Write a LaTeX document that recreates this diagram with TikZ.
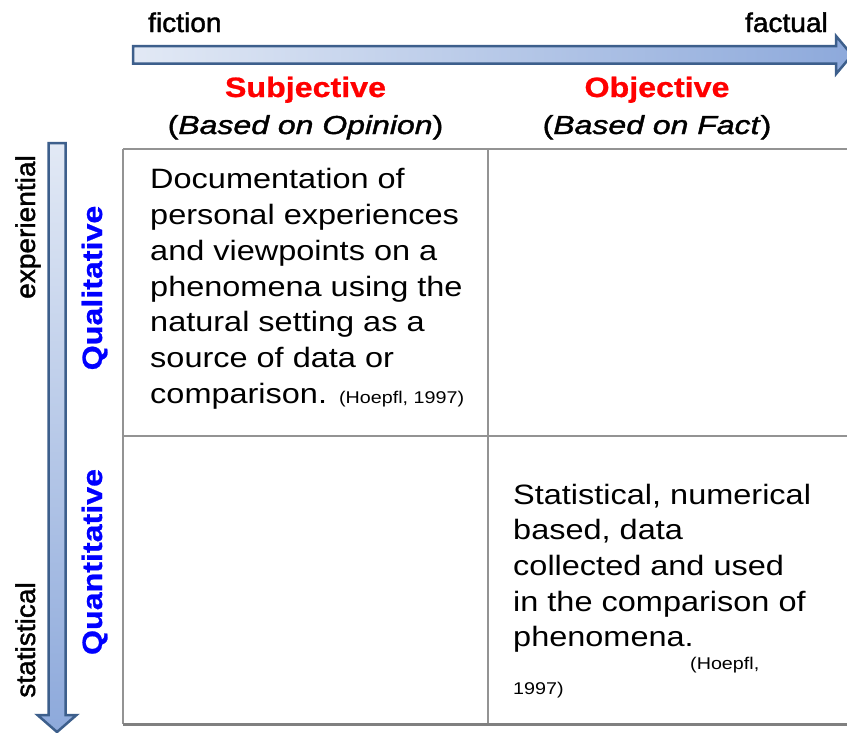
\documentclass[tikz,border=0pt]{standalone}
\usepackage{fontspec}
\setmainfont{Liberation Sans}
\newfontfamily\bodyfont[FakeStretch=1.16]{Liberation Sans}
\newfontfamily\axisfont[FakeStretch=1.04,FakeBold=1.5]{Liberation Sans}
\newfontfamily\headfont[FakeStretch=1.15,FakeBold=0.8]{Liberation Sans}
\newfontfamily\basisfont[FakeStretch=1.23,FakeBold=1.5]{Liberation Sans}

\definecolor{arrowline}{HTML}{3D5F8C}
\definecolor{arrowlight}{HTML}{E2E9F5}
\definecolor{arrowdark}{HTML}{8DA9DB}
\definecolor{gridline}{HTML}{939393}
\definecolor{gridbottom}{HTML}{808080}
\definecolor{headred}{HTML}{FF0000}
\definecolor{headblue}{HTML}{0000FF}

\begin{document}
\begin{tikzpicture}[x=1pt,y=-1pt,
  axislabel/.style={inner sep=0, font=\axisfont\fontsize{27}{30}\selectfont},
  colhead/.style={inner sep=0, text=headred, font=\headfont\bfseries\fontsize{28}{32}\selectfont},
  colbasis/.style={inner sep=0, font=\basisfont\fontsize{26}{30}\selectfont},
  rowhead/.style={inner sep=0, rotate=90, anchor=base, text=headblue, font=\headfont\bfseries\fontsize{28}{32}\selectfont},
  sidelabel/.style={axislabel, rotate=90, anchor=base},
  bodytext/.style={inner sep=0, align=left, anchor=north west, font=\bodyfont\fontsize{28}{35.7}\selectfont},
  cite/.style={inner sep=0, font=\bodyfont\fontsize{17}{24}\selectfont},
  gridrule/.style={draw=gridline, line width=2pt},
  scalearrow/.style={draw=arrowline, line width=2.5pt, line join=miter}
]
% page
\fill[white] (0,0) rectangle (847,732);
\useasboundingbox (0,0) rectangle (847,732);

% horizontal scale: fiction -> factual
\path[scalearrow, left color=arrowlight, right color=arrowdark]
  (133,46) -- (836,46) -- (836,36) -- (852,55) -- (836,74) -- (836,63.5) -- (133,63.5) -- cycle;

% vertical scale: experiential -> statistical
\path[scalearrow, top color=arrowlight, bottom color=arrowdark]
  (48.5,143) -- (65.5,143) -- (65.5,715) -- (76.5,715) -- (57,732) -- (37.5,715) -- (48.5,715) -- cycle;

% grid corners
\coordinate (tl) at (123,149);
\coordinate (tm) at (488,149);
\coordinate (tr) at (848,149);
\coordinate (ml) at (123,436);
\coordinate (mr) at (848,436);
\coordinate (bl) at (123,724);
\coordinate (bm) at (488,724);
\coordinate (br) at (848,724);

\draw[gridrule] (tl) -- (tr);
\draw[gridrule] (tl) -- (bl);
\draw[gridrule] (tm) -- (bm);
\draw[gridrule] (ml) -- (mr);
\draw[draw=gridbottom, line width=3pt] (bl) -- (br);

% scale labels
\node[axislabel, anchor=base west] (fiction) at (148,32) {fiction};
\node[axislabel, anchor=base east] (factual) at (828,32) {factual};
\node[sidelabel] (experiential) at (35,227) {experiential};
\node[sidelabel] (statistical) at (35,640) {statistical};

% column headings
\node[colhead, anchor=base] (subj) at (305.5,97) {Subjective};
\node[colbasis, anchor=base] (subjbasis) at (305.5,134) {(\textit{Based on Opinion})};
\node[colhead, anchor=base] (obj) at (657,97) {Objective};
\node[colbasis, anchor=base] (objbasis) at (657,134) {(\textit{Based on Fact})};

% row headings
\node[rowhead] (qual) at (102,288) {Qualitative};
\node[rowhead] (quant) at (102,562) {Quantitative};

% cell texts
\node[bodytext] (qualtext) at (150,168.5) {Documentation of\\
personal experiences\\
and viewpoints on a\\
phenomena using the\\
natural setting as a\\
source of data or\\
comparison. {\fontsize{17}{24}\selectfont(Hoepfl, 1997)}};

\node[bodytext] (quanttext) at (513,483.5) {Statistical, numerical\\
based, data\\
collected and used\\
in the comparison of\\
phenomena.};
\node[cite, anchor=base west] (citeA) at (690,669) {(Hoepfl,};
\node[cite, anchor=base west] (citeB) at (513,694) {1997)};
\end{tikzpicture}
\end{document}
